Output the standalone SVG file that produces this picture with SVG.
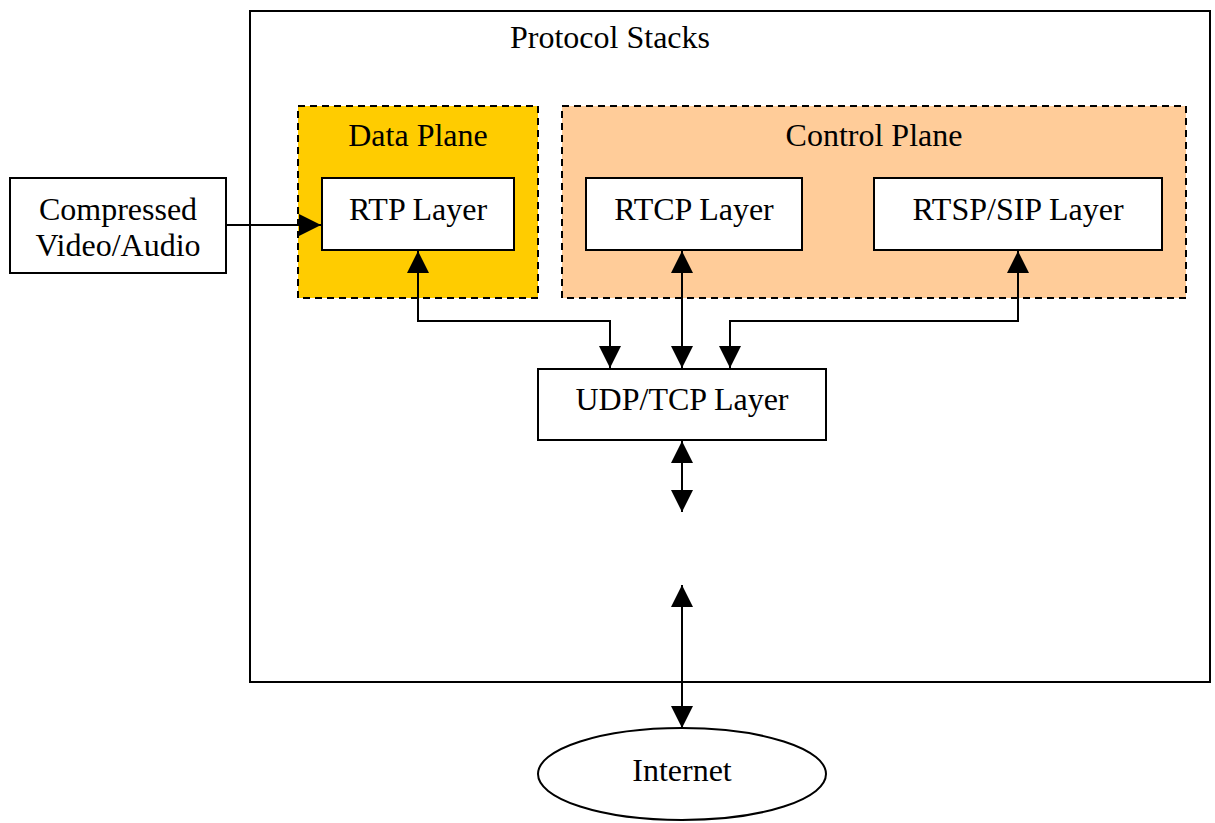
<svg xmlns="http://www.w3.org/2000/svg" width="1215" height="823" viewBox="0 0 1215 823">
<defs>
<marker id="ah" markerUnits="userSpaceOnUse" markerWidth="22" markerHeight="22" viewBox="0 0 20 20" refX="20" refY="10" orient="auto-start-reverse">
<path d="M0,0 L20,10 L0,20 Z" fill="#000"/>
</marker>
<style>
text{font-family:"Liberation Serif","Times New Roman",serif;font-size:32px;fill:#000;text-anchor:middle}
.box{fill:#fff;stroke:#000;stroke-width:2}
.plane{stroke:#000;stroke-width:2;stroke-dasharray:7,5}
.c{fill:none;stroke:#000;stroke-width:2}
</style>
</defs>
<rect width="1215" height="823" fill="#fff"/>
<g id="protocol-stacks">
<rect x="250" y="11" width="960" height="671" class="box"/>
<text x="610" y="48">Protocol Stacks</text>
</g>
<g id="data-plane">
<rect x="298" y="106" width="240" height="192" class="plane" fill="#FFCC00"/>
<text x="418" y="146">Data Plane</text>
</g>
<g id="control-plane">
<rect x="562" y="106" width="624" height="192" class="plane" fill="#FFCC99"/>
<text x="874" y="146">Control Plane</text>
</g>
<g id="rtp">
<rect x="322" y="178" width="192" height="72" class="box"/>
<text x="418" y="220">RTP Layer</text>
</g>
<g id="rtcp">
<rect x="586" y="178" width="216" height="72" class="box"/>
<text x="694" y="220">RTCP Layer</text>
</g>
<g id="rtsp">
<rect x="874" y="178" width="288" height="72" class="box"/>
<text x="1018" y="220">RTSP/SIP Layer</text>
</g>
<g id="compressed">
<rect x="10" y="178" width="216" height="95" class="box"/>
<text x="118" y="220">Compressed</text>
<text x="118" y="256">Video/Audio</text>
</g>
<g id="udp">
<rect x="538" y="369" width="288" height="71" class="box"/>
<text x="682" y="410">UDP/TCP Layer</text>
</g>
<g id="internet">
<ellipse cx="682" cy="774" rx="144" ry="46" class="box"/>
<text x="682" y="781">Internet</text>
</g>
<g id="connectors">
<path d="M226,225 H321" class="c" marker-end="url(#ah)"/>
<path d="M418,251 V321 H610 V368" class="c" marker-start="url(#ah)" marker-end="url(#ah)"/>
<path d="M682,251 V368" class="c" marker-start="url(#ah)" marker-end="url(#ah)"/>
<path d="M1018,251 V321 H730 V368" class="c" marker-start="url(#ah)" marker-end="url(#ah)"/>
<path d="M682,441 V512" class="c" marker-start="url(#ah)" marker-end="url(#ah)"/>
<path d="M682,585 V728" class="c" marker-start="url(#ah)" marker-end="url(#ah)"/>
</g>
</svg>
